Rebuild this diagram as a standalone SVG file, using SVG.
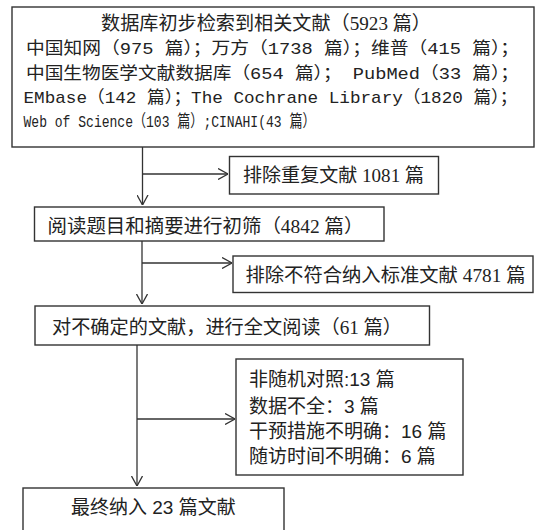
<svg xmlns="http://www.w3.org/2000/svg" width="542" height="530" viewBox="0 0 542 530">
<style>
.box{fill:#fff;stroke:#333;stroke-width:1.4}
.c{fill:none;stroke:#333;stroke-width:1.3}
text{fill:#222;font-size:19px}
.serif{font-family:"Liberation Serif","Noto Sans CJK SC",serif}
.mono{font-family:"Liberation Mono","Noto Sans CJK SC",monospace;font-size:17px}
.sans{font-family:"Liberation Sans","Noto Sans CJK SC",sans-serif}
</style>
<defs>
<marker id="arr" viewBox="0 0 10 12" refX="10" refY="6" markerWidth="10" markerHeight="12" markerUnits="userSpaceOnUse" orient="auto">
<path d="M0,0.5 L10,6 L0,11.5" fill="none" stroke="#333" stroke-width="1.3"/>
</marker>
</defs>
<rect width="542" height="530" fill="#fff"/>
<g id="connectors">
<path class="c" d="M142.5,147 V205" marker-end="url(#arr)"/>
<path class="c" d="M142.5,174 H228" marker-end="url(#arr)"/>
<path class="c" d="M142,241 V304" marker-end="url(#arr)"/>
<path class="c" d="M142,263 H232" marker-end="url(#arr)"/>
<path class="c" d="M137,345 V486" marker-end="url(#arr)"/>
<path class="c" d="M137,419 H235" marker-end="url(#arr)"/>
</g>
<g id="search">
<rect class="box" x="12" y="7" width="522" height="140"/>
<text class="serif" x="101" y="30" textLength="330" lengthAdjust="spacingAndGlyphs">数据库初步检索到相关文献（5923 篇）</text>
<text class="mono" x="26" y="54" textLength="493" lengthAdjust="spacingAndGlyphs">中国知网（975 篇）；万方（1738 篇）；维普（415 篇）；</text>
<text class="mono" x="26" y="79" textLength="493" lengthAdjust="spacingAndGlyphs">中国生物医学文献数据库（654 篇）； PubMed（33 篇）；</text>
<text class="mono" x="23.5" y="103" textLength="494" lengthAdjust="spacingAndGlyphs">EMbase（142 篇）；The Cochrane Library（1820 篇）；</text>
<text class="mono" x="23.5" y="127" textLength="292" lengthAdjust="spacingAndGlyphs">Web of Science（103 篇）;CINAHI(43 篇）</text>
</g>
<g id="dup">
<rect class="box" x="229.5" y="156.5" width="209" height="37.5"/>
<text class="serif" x="243" y="182" textLength="181" lengthAdjust="spacingAndGlyphs">排除重复文献 1081 篇</text>
</g>
<g id="screen">
<rect class="box" x="34.5" y="207" width="349.5" height="34"/>
<text class="serif" x="47.5" y="233" textLength="316" lengthAdjust="spacingAndGlyphs">阅读题目和摘要进行初筛（4842 篇）</text>
</g>
<g id="excl1">
<rect class="box" x="233" y="256" width="300" height="36.5"/>
<text class="serif" x="245.5" y="282" textLength="280" lengthAdjust="spacingAndGlyphs">排除不符合纳入标准文献 4781 篇</text>
</g>
<g id="fulltext">
<rect class="box" x="35" y="306" width="394.5" height="39"/>
<text class="serif" x="52" y="334" textLength="350" lengthAdjust="spacingAndGlyphs">对不确定的文献，进行全文阅读（61 篇）</text>
</g>
<g id="excl2">
<rect class="box" x="236" y="359" width="227" height="116"/>
<text class="sans" x="249" y="386">非随机对照:13 篇</text>
<text class="sans" x="249" y="413">数据不全：3 篇</text>
<text class="sans" x="249" y="438">干预措施不明确：16 篇</text>
<text class="sans" x="249" y="463">随访时间不明确：6 篇</text>
</g>
<g id="final">
<rect class="box" x="23" y="488" width="261" height="60"/>
<text class="sans" x="71" y="514">最终纳入 23 篇文献</text>
</g>
</svg>
